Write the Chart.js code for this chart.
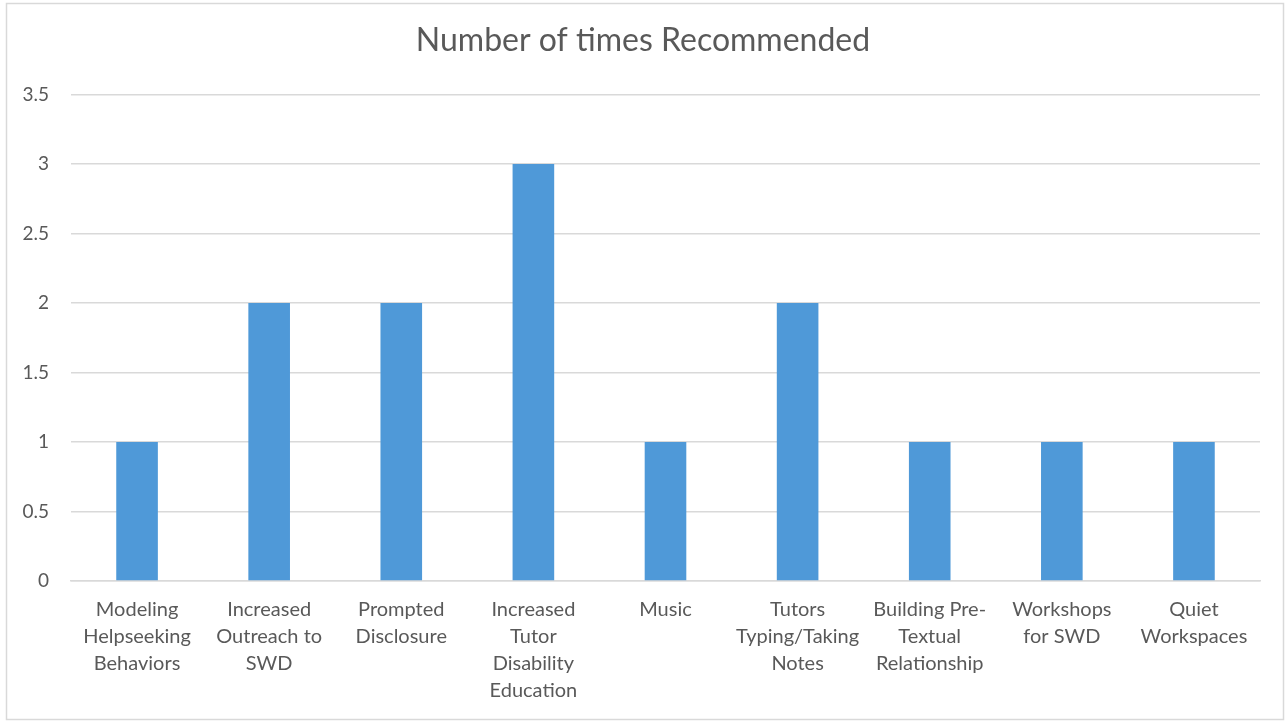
<!DOCTYPE html>
<html>
<head>
<meta charset="utf-8">
<script src="https://cdn.jsdelivr.net/npm/chart.js@4/dist/chart.umd.min.js"></script>
<style>
html,body{margin:0;padding:0;background:#fff;}
#wrap{position:relative;width:1286px;height:721px;}
</style>
</head>
<body>
<div id="wrap"><canvas id="c" width="1286" height="721"></canvas></div>
<script>
const chartTitle = "Number of times Recommended";
const categories = [
  ["Modeling", "Helpseeking", "Behaviors"],
  ["Increased", "Outreach to", "SWD"],
  ["Prompted", "Disclosure"],
  ["Increased", "Tutor", "Disability", "Education"],
  ["Music"],
  ["Tutors", "Typing/Taking", "Notes"],
  ["Building Pre-", "Textual", "Relationship"],
  ["Workshops", "for SWD"],
  ["Quiet", "Workspaces"]
];
const recommendedCounts = [1, 2, 2, 3, 1, 2, 1, 1, 1];
const yTickMin = 0, yTickMax = 3.5, yTickStep = 0.5;

const FONT = "Lato, 'Open Sans', sans-serif";
const TEXT = "#595959";

const borderPlugin = {
  id: 'outerBorder',
  beforeDraw(chart) {
    const ctx = chart.ctx;
    ctx.save();
    ctx.fillStyle = '#ffffff';
    ctx.fillRect(0, 0, chart.width, chart.height);
    ctx.strokeStyle = '#d9d9d9';
    ctx.lineWidth = 1.5;
    ctx.strokeRect(6.5, 3.5, 1277, 716);
    ctx.restore();
  }
};

new Chart(document.getElementById('c'), {
  type: 'bar',
  data: {
    labels: categories,
    datasets: [{
      data: recommendedCounts,
      backgroundColor: '#4f99d8',
      borderWidth: 0,
      categoryPercentage: 1,
      barPercentage: 0.315,
      yAxisID: 'y'
    }]
  },
  options: {
    responsive: false,
    animation: false,
    layout: { padding: { left: 0, right: 0, top: 0, bottom: 0 } },
    plugins: {
      legend: { display: false },
      tooltip: { enabled: false },
      title: {
        display: true,
        text: chartTitle,
        color: TEXT,
        font: { family: FONT, size: 32, weight: 'normal' },
        padding: { top: 21, bottom: 35 }
      }
    },
    scales: {
      x: {
        grid: { display: false, drawTicks: false },
        border: { display: true, color: '#d9d9d9', width: 1.5 },
        ticks: {
          color: TEXT,
          font: { family: FONT, size: 20, lineHeight: 1.35 },
          padding: 15,
          maxRotation: 0,
          autoSkip: false
        },
        afterFit(scale) { scale.height = 140; }
      },
      y: {
        position: 'left',
        min: yTickMin,
        max: yTickMax,
        grid: { color: '#d9d9d9', lineWidth: 1.5, drawTicks: false },
        border: { display: false },
        ticks: {
          stepSize: yTickStep,
          color: TEXT,
          font: { family: FONT, size: 19 },
          padding: 22,
          callback: (v) => String(Number(v))
        },
        afterFit(scale) { scale.width = 71; }
      },
      y2: {
        position: 'right',
        display: true,
        min: yTickMin,
        max: yTickMax,
        grid: { display: false, drawTicks: false },
        border: { display: false },
        ticks: { display: false },
        afterFit(scale) { scale.width = 26; }
      }
    }
  },
  plugins: [borderPlugin]
});
</script>
</body>
</html>
